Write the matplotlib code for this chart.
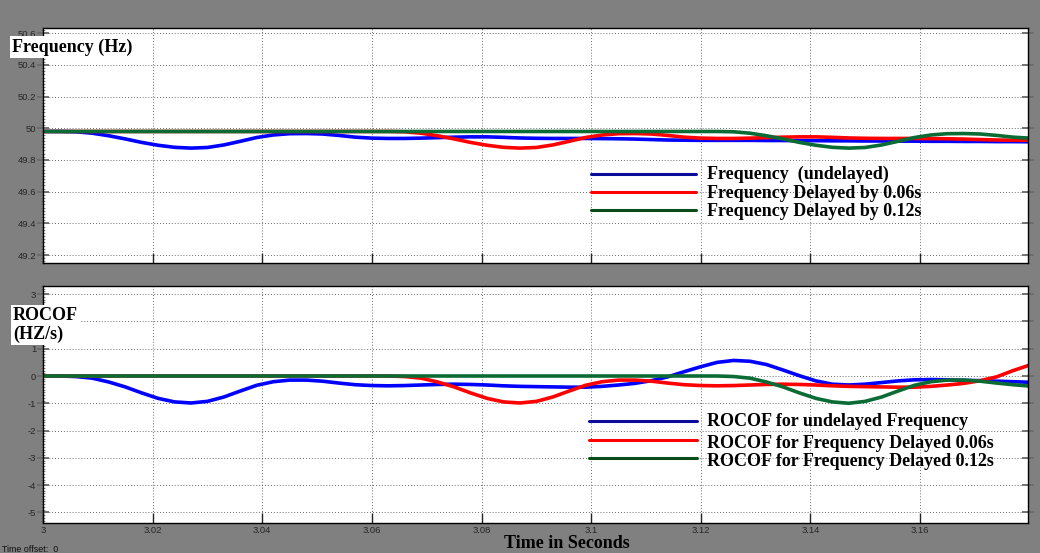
import numpy as np
import matplotlib
matplotlib.use("Agg")
import matplotlib.pyplot as plt
from matplotlib.lines import Line2D
from matplotlib.ticker import FixedLocator, MultipleLocator, FuncFormatter

plt.rcParams['axes.unicode_minus'] = False

# ---------------------------------------------------------------- data
# simulation time (s), sampled every 3 ms
time = np.round(3.0 + 0.003 * np.arange(61), 3)

freq_undelayed = [
    49.980, 49.980, 49.978, 49.969, 49.953, 49.933, 49.911, 49.893, 49.880, 49.875,
    49.879, 49.895, 49.918, 49.942, 49.958, 49.966, 49.967, 49.964, 49.955, 49.944,
    49.938, 49.936, 49.936, 49.938, 49.941, 49.944, 49.946, 49.946, 49.943, 49.939,
    49.937, 49.936, 49.936, 49.936, 49.935, 49.934, 49.932, 49.929, 49.926, 49.925,
    49.924, 49.924, 49.924, 49.924, 49.923, 49.923, 49.922, 49.922, 49.921, 49.921,
    49.920, 49.920, 49.919, 49.919, 49.918, 49.918, 49.917, 49.917, 49.916, 49.916,
    49.915]
freq_delay_006 = [
    49.980, 49.980, 49.980, 49.980, 49.980, 49.980, 49.980, 49.980, 49.980, 49.980,
    49.980, 49.980, 49.980, 49.980, 49.980, 49.980, 49.980, 49.980, 49.980, 49.980,
    49.980, 49.980, 49.978, 49.969, 49.953, 49.933, 49.911, 49.893, 49.880, 49.875,
    49.879, 49.895, 49.918, 49.942, 49.958, 49.966, 49.967, 49.964, 49.955, 49.944,
    49.938, 49.936, 49.936, 49.938, 49.941, 49.944, 49.946, 49.946, 49.943, 49.939,
    49.937, 49.936, 49.936, 49.936, 49.935, 49.934, 49.932, 49.929, 49.926, 49.925,
    49.924]
freq_delay_012 = [
    49.980, 49.980, 49.980, 49.980, 49.980, 49.980, 49.980, 49.980, 49.980, 49.980,
    49.980, 49.980, 49.980, 49.980, 49.980, 49.980, 49.980, 49.980, 49.980, 49.980,
    49.980, 49.980, 49.980, 49.980, 49.980, 49.980, 49.980, 49.980, 49.980, 49.980,
    49.980, 49.980, 49.980, 49.980, 49.980, 49.980, 49.980, 49.980, 49.980, 49.980,
    49.980, 49.980, 49.978, 49.969, 49.953, 49.933, 49.911, 49.893, 49.880, 49.875,
    49.879, 49.895, 49.918, 49.942, 49.958, 49.966, 49.967, 49.964, 49.955, 49.944,
    49.938]

rocof_undelayed = [
    0.00, 0.00, -0.02, -0.08, -0.22, -0.40, -0.62, -0.82, -0.95, -0.99,
    -0.93, -0.77, -0.55, -0.34, -0.21, -0.15, -0.15, -0.19, -0.26, -0.32,
    -0.35, -0.36, -0.35, -0.33, -0.31, -0.30, -0.31, -0.33, -0.36, -0.38,
    -0.39, -0.40, -0.41, -0.41, -0.38, -0.33, -0.27, -0.17, -0.03, 0.16,
    0.34, 0.50, 0.57, 0.54, 0.42, 0.22, 0.01, -0.18, -0.30, -0.33,
    -0.30, -0.24, -0.18, -0.14, -0.13, -0.14, -0.16, -0.17, -0.19, -0.21,
    -0.23]
rocof_delay_006 = [
    0.00, 0.00, 0.00, 0.00, 0.00, 0.00, 0.00, 0.00, 0.00, 0.00,
    0.00, 0.00, 0.00, 0.00, 0.00, 0.00, 0.00, 0.00, 0.00, 0.00,
    0.00, 0.00, -0.02, -0.08, -0.22, -0.40, -0.62, -0.82, -0.95, -0.99,
    -0.93, -0.77, -0.55, -0.34, -0.21, -0.15, -0.15, -0.19, -0.26, -0.32,
    -0.35, -0.36, -0.35, -0.33, -0.31, -0.30, -0.31, -0.33, -0.36, -0.38,
    -0.39, -0.40, -0.41, -0.41, -0.38, -0.33, -0.27, -0.17, -0.03, 0.20,
    0.40]
rocof_delay_012 = [
    0.00, 0.00, 0.00, 0.00, 0.00, 0.00, 0.00, 0.00, 0.00, 0.00,
    0.00, 0.00, 0.00, 0.00, 0.00, 0.00, 0.00, 0.00, 0.00, 0.00,
    0.00, 0.00, 0.00, 0.00, 0.00, 0.00, 0.00, 0.00, 0.00, 0.00,
    0.00, 0.00, 0.00, 0.00, 0.00, 0.00, 0.00, 0.00, 0.00, 0.00,
    0.00, 0.00, -0.02, -0.08, -0.22, -0.40, -0.62, -0.82, -0.95, -1.00,
    -0.93, -0.77, -0.55, -0.34, -0.21, -0.15, -0.15, -0.19, -0.26, -0.32,
    -0.37]

x_ticks = [3.0, 3.02, 3.04, 3.06, 3.08, 3.10, 3.12, 3.14, 3.16]
freq_ticks = [49.2, 49.4, 49.6, 49.8, 50.0, 50.2, 50.4, 50.6]
rocof_ticks = [-5, -4, -3, -2, -1, 0, 1, 2, 3]
# the "2" label sits under the ROCOF title box
rocof_tick_labels = ["-5", "-4", "-3", "-2", "-1", "0", "1", "", "3"]

freq_labels = ["Frequency  (undelayed)",
               "Frequency Delayed by 0.06s",
               "Frequency Delayed by 0.12s"]
rocof_labels = ["ROCOF for undelayed Frequency",
                "ROCOF for Frequency Delayed 0.06s",
                "ROCOF for Frequency Delayed 0.12s"]

line_colors = ["#0000ff", "#ff0000", "#0b6b35"]
key_colors = ["#0c0c9c", "#ff0000", "#0a4d18"]

# ---------------------------------------------------------------- layout
W, H = 1040, 553
fig = plt.figure(figsize=(W / 100, H / 100), dpi=100, facecolor="#808080")


def fx(x):
    return x / W


def fy(y):
    return 1 - y / H


def rect(left, top, right, bottom):
    return [fx(left), fy(bottom), (right - left) / W, (bottom - top) / H]


ax1 = fig.add_axes(rect(43, 28, 1028, 263))
ax2 = fig.add_axes(rect(43, 286, 1028, 523))

tick_font = dict(family="Liberation Sans", size=6.8)
serif_bold = dict(family="Liberation Serif", weight="bold", size=13)
fmt = FuncFormatter(lambda v, p: f"{v:g}")

for ax, yt, ylim, minor in ((ax1, freq_ticks, (49.15, 50.633), 0.02),
                             (ax2, rocof_ticks, (-5.39, 3.30), 0.1)):
    ax.set_facecolor("white")
    ax.set_xlim(3.0, 3.1797)
    ax.set_ylim(*ylim)
    ax.xaxis.set_major_locator(FixedLocator(x_ticks))
    ax.yaxis.set_major_locator(FixedLocator(yt))
    ax.yaxis.set_minor_locator(MultipleLocator(minor))
    ax.xaxis.set_major_formatter(fmt)
    ax.yaxis.set_major_formatter(fmt)
    ax.grid(True, which="major", color="#3a3a3a", linestyle=(0, (1, 2.5)),
            linewidth=0.6)
    for s in ax.spines.values():
        s.set_color("black")
        s.set_linewidth(1.0)
    ax.tick_params(axis="x", which="major", direction="in", length=7, width=1,
                   color="#222222", labelcolor="#262626", pad=2)
    ax.tick_params(axis="y", which="major", direction="inout", length=8,
                   width=1.3, color="#6a6a6a", labelcolor="#262626",
                   left=True, right=True, pad=1)
    ax.tick_params(axis="y", which="minor", direction="inout", length=3,
                   width=0.5, color="#555555", left=True, right=False)

ax2.set_yticklabels(rocof_tick_labels)
for ax in (ax1, ax2):
    for lab in ax.get_xticklabels() + ax.get_yticklabels():
        lab.set_fontfamily(tick_font["family"])
        lab.set_fontsize(tick_font["size"])

ax1.tick_params(axis="x", labelbottom=False)

# ---------------------------------------------------------------- curves
for series, c in zip((freq_undelayed, freq_delay_006, freq_delay_012), line_colors):
    ax1.plot(time, series, color=c, linewidth=2.6, solid_capstyle="butt")
for series, c in zip((rocof_undelayed, rocof_delay_006, rocof_delay_012), line_colors):
    ax2.plot(time, series, color=c, linewidth=2.6, solid_capstyle="butt")

# ---------------------------------------------------------------- keys
def draw_key(labels, x0, x1, tx, line_ys, text_ys):
    for lab, c, ly, ty in zip(labels, key_colors, line_ys, text_ys):
        fig.add_artist(Line2D([fx(x0), fx(x1)], [fy(ly), fy(ly)],
                              transform=fig.transFigure, color=c,
                              linewidth=2.2, solid_capstyle="round"))
        fig.text(fx(tx), fy(ty), lab, ha="left", va="center", **serif_bold)


draw_key(freq_labels, 591, 696, 707, [174, 192, 210], [174, 194, 212])
draw_key(rocof_labels, 589, 697, 707, [421, 440, 458], [421, 443, 461])

# ---------------------------------------------------------------- titles
box_style = dict(facecolor="white", edgecolor="none", pad=1.5)
fig.text(fx(12), fy(47), "Frequency (Hz)", ha="left", va="center",
         bbox=box_style, **serif_bold)
fig.text(fx(13), fy(325), "ROCOF\n(HZ/s)", ha="left", va="center",
         linespacing=1.15, bbox=box_style, **serif_bold)
fig.text(fx(567), fy(544), "Time in Seconds", ha="center", va="center",
         **serif_bold)
fig.text(fx(2), fy(549), "Time offset:  0", ha="left", va="center",
         family="Liberation Sans", size=6.4, color="#111111")

fig.savefig("out.png", dpi=100, facecolor=fig.get_facecolor())
